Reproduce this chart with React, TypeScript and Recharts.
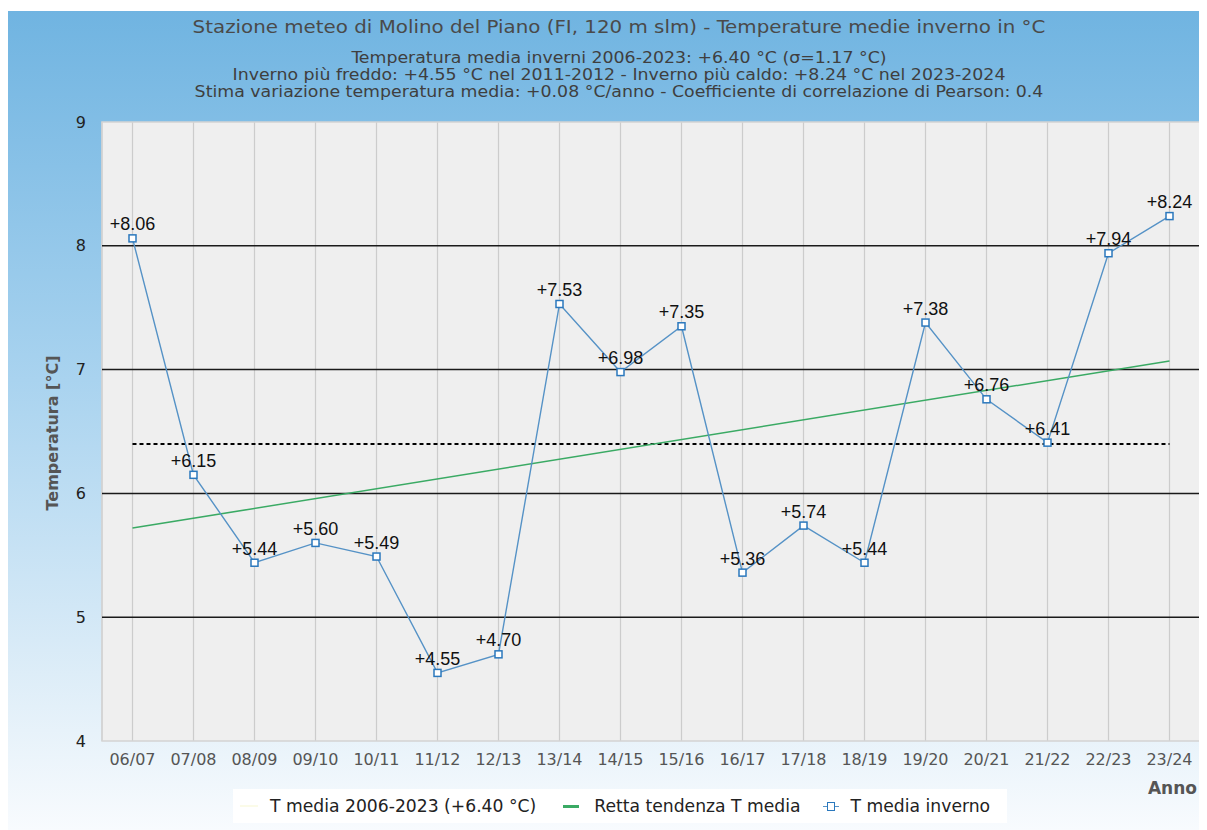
import {
  ComposedChart,
  CartesianGrid,
  LabelList,
  Line,
  ReferenceArea,
  ReferenceLine,
  XAxis,
  YAxis,
} from "recharts";

const seasons = [
  "06/07", "07/08", "08/09", "09/10", "10/11", "11/12", "12/13", "13/14", "14/15",
  "15/16", "16/17", "17/18", "18/19", "19/20", "20/21", "21/22", "22/23", "23/24",
];
const winterTemps = [
  8.06, 6.15, 5.44, 5.6, 5.49, 4.55, 4.7, 7.53, 6.98, 7.35, 5.36, 5.74, 5.44, 7.38, 6.76,
  6.41, 7.94, 8.24,
];
const meanTemp = 6.4;
const trendStart = 5.72;
const trendEnd = 7.07;
const yTicks = [4, 5, 6, 7, 8, 9];
const blackGrid = [5, 6, 7, 8];

const subtitles = [
  "Temperatura media inverni 2006-2023: +6.40 °C (σ=1.17 °C)",
  "Inverno più freddo: +4.55 °C nel 2011-2012 - Inverno più caldo: +8.24 °C nel 2023-2024",
  "Stima variazione temperatura media: +0.08 °C/anno - Coefficiente di correlazione di Pearson: 0.4",
];

const data = seasons.map((s, i) => ({ season: s, temp: winterTemps[i] }));

const condensed = "'DejaVu Sans Condensed', 'DejaVu Sans', sans-serif";
const sans = "'DejaVu Sans', sans-serif";

const SquareDot = (props: any) => {
  const { cx, cy, index } = props;
  if (cx == null || cy == null) return <g key={`d${index}`} />;
  return (
    <rect
      key={`d${index}`}
      x={cx - 3.5}
      y={cy - 3.5}
      width={7}
      height={7}
      fill="#ffffff"
      stroke="#2b78bd"
      strokeWidth={1.5}
    />
  );
};

export default function App() {
  return (
    <div
      style={{
        position: "relative",
        marginTop: 3,
        width: 1199,
        height: 819,
        background: "linear-gradient(to bottom, #70b4e1 0%, #a9d3ef 45%, #e3f0f9 85%, #f8fbfe 100%)",
        overflow: "hidden",
      }}
    >
      <div
        style={{
          position: "absolute",
          top: 6,
          left: 0,
          width: 1222,
          textAlign: "center",
          fontFamily: condensed,
          fontSize: 17.5,
          color: "#4a4a4a",
          transform: "scaleX(1.26)",
          transformOrigin: "611px 0",
          whiteSpace: "nowrap",
        }}
      >
        Stazione meteo di Molino del Piano (FI, 120 m slm) - Temperature medie inverno in °C
      </div>
      <div
        style={{
          position: "absolute",
          top: 39,
          left: 0,
          width: 1222,
          textAlign: "center",
          fontFamily: condensed,
          fontSize: 15.5,
          lineHeight: "17px",
          color: "#3f3f3f",
          transform: "scaleX(1.245)",
          transformOrigin: "611px 0",
          whiteSpace: "nowrap",
        }}
      >
        {subtitles.map((t) => (
          <div key={t}>{t}</div>
        ))}
      </div>

      <ComposedChart
        width={1199}
        height={819}
        data={data}
        margin={{ top: 111, right: 7, bottom: 59, left: 34 }}
        style={{ position: "absolute", left: 0, top: 0 }}
      >
        <CartesianGrid fill="#efefef" horizontal={false} stroke="#cccccc" strokeWidth={1.2} />
        <ReferenceArea y1={4} y2={9} fill="none" stroke="#d4d4d4" strokeWidth={1.5} />
        {blackGrid.map((v) => (
          <ReferenceLine key={v} y={v} stroke="#1a1a1a" strokeWidth={1.5} />
        ))}
        <XAxis
          dataKey="season"
          scale="band"
          height={30}
          axisLine={false}
          tickLine={false}
          tickMargin={7}
          interval={0}
          tick={{ fill: "#555555", fontSize: 16, fontFamily: sans }}
        />
        <YAxis
          width={60}
          domain={[4, 9]}
          ticks={yTicks}
          axisLine={false}
          tickLine={false}
          tickMargin={10}
          tick={{ fill: "#222222", fontSize: 16, fontFamily: sans }}
        />
        <ReferenceLine
          segment={[
            { x: seasons[0], y: meanTemp },
            { x: seasons[seasons.length - 1], y: meanTemp },
          ]}
          stroke="#000000"
          strokeWidth={2}
          strokeDasharray="4 3"
        />
        <ReferenceLine
          segment={[
            { x: seasons[0], y: trendStart },
            { x: seasons[seasons.length - 1], y: trendEnd },
          ]}
          stroke="#3aaa64"
          strokeWidth={1.5}
        />
        <Line
          dataKey="temp"
          stroke="#5592c6"
          strokeWidth={1.4}
          dot={SquareDot}
          activeDot={false}
          isAnimationActive={false}
        >
          <LabelList
            dataKey="temp"
            position="top"
            offset={8}
            fill="#111111"
            fontSize={18}
            fontFamily="'Liberation Sans', Arial, sans-serif"
            formatter={(v: any) => `+${Number(v).toFixed(2)}`}
          />
        </Line>
      </ComposedChart>

      <div
        style={{
          position: "absolute",
          left: 44,
          top: 422,
          transform: "translate(-50%, -50%) rotate(-90deg)",
          whiteSpace: "nowrap",
          fontFamily: sans,
          fontWeight: "bold",
          fontSize: 16,
          color: "#555555",
        }}
      >
        Temperatura [°C]
      </div>
      <div
        style={{
          position: "absolute",
          right: 10,
          top: 767,
          fontFamily: sans,
          fontWeight: "bold",
          fontSize: 17,
          color: "#555555",
        }}
      >
        Anno
      </div>

      <div
        style={{
          position: "absolute",
          left: 225,
          top: 778,
          width: 774,
          height: 34,
          background: "#ffffff",
          display: "flex",
          alignItems: "center",
          fontFamily: sans,
          fontSize: 17.2,
          color: "#222222",
        }}
      >
        <span style={{ display: "inline-block", width: 18, height: 2, background: "#fbfbe8", marginLeft: 7, marginRight: 12 }} />
        <span>T media 2006-2023 (+6.40 °C)</span>
        <span style={{ display: "inline-block", width: 16, height: 3, background: "#3aaa64", marginLeft: 27, marginRight: 15 }} />
        <span>Retta tendenza T media</span>
        <span style={{ position: "relative", display: "inline-block", width: 16, height: 16, marginLeft: 22, marginRight: 12 }}>
          <span style={{ position: "absolute", left: 0, top: 8, width: 16, height: 1, background: "#5592c6" }} />
          <span style={{ position: "absolute", left: 4, top: 4, width: 6, height: 7, border: "1.5px solid #2b78bd", background: "#ffffff" }} />
        </span>
        <span>T media inverno</span>
      </div>
    </div>
  );
}
